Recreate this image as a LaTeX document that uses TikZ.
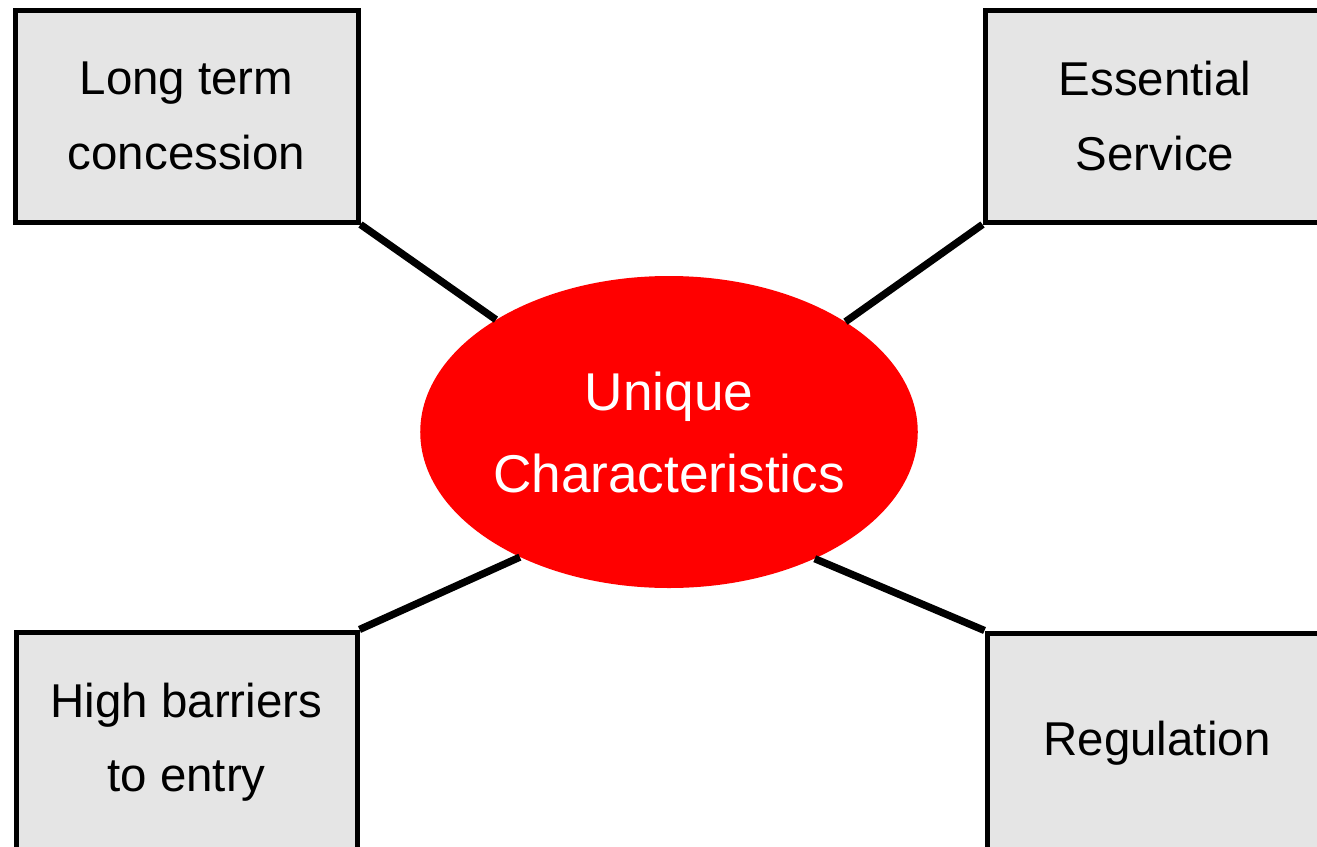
\documentclass[tikz,border=0pt]{standalone}
\usepackage{fontspec}
\setmainfont{Liberation Sans}
\usetikzlibrary{shapes.geometric}
\definecolor{boxgray}{HTML}{E5E5E5}
\definecolor{ellred}{HTML}{FF0000}
\tikzset{
  featbox/.style={draw=black, line width=3.75pt, fill=boxgray, rectangle,
    inner sep=0pt, align=center, font=\fontsize{35.6}{55.9}\selectfont},
  core/.style={ellipse, fill=ellred, draw=none, inner sep=0pt,
    minimum width=372pt, minimum height=234pt, text=white, align=center,
    font=\fontsize{39.9}{61.5}\selectfont},
  link/.style={draw=black, line width=5.5pt}
}
\begin{document}
\begin{tikzpicture}[x=0.75pt,y=-0.75pt]
\clip (0,0) rectangle (1317,846);
\useasboundingbox (0,0) rectangle (1317,846);
\fill[white] (0,0) rectangle (1317,846);
\node[featbox, minimum width=257.25pt, minimum height=159pt] (tl) at (186.5,116) {Long term\\concession};
\node[featbox, minimum width=255pt, minimum height=159pt] (tr) at (1155,116) {Essential\\Service};
\node[featbox, minimum width=255.75pt, minimum height=165pt] (bl) at (186.5,742) {High barriers\\to entry};
\node[featbox, minimum width=255pt, minimum height=165pt] (br) at (1157,743) {Regulation};
\node[core] (u) at (669,432) {Unique\\Characteristics};
\draw[link] (tl.south east) -- (u.147);
\draw[link] (tr.south west) -- (u.32);
\draw[link] (bl.north east) -- (u.220.8);
\draw[link] (br.north west) -- (u.319.4);
\end{tikzpicture}
\end{document}
